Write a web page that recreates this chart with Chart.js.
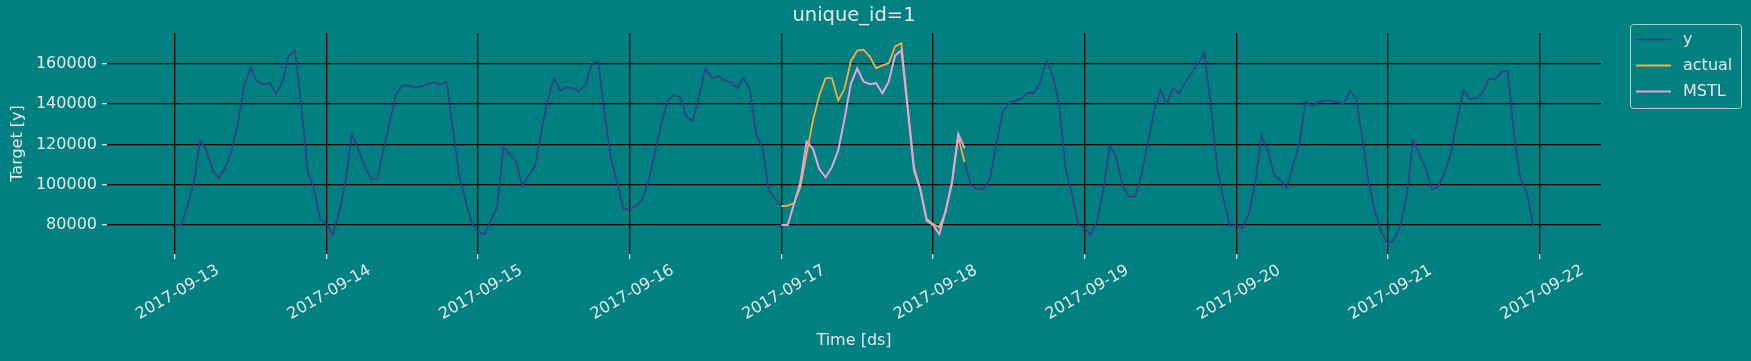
<!DOCTYPE html>
<html>
<head>
<meta charset="utf-8">
<script src="https://cdn.jsdelivr.net/npm/chart.js@4.4.1/dist/chart.umd.min.js"></script>
<style>
  html, body { margin: 0; padding: 0; background: #008080; }
  #wrap { width: 1751px; height: 361px; }
</style>
</head>
<body>
<div id="wrap"><canvas id="chart" width="1751" height="361"></canvas></div>
<script>
// hourly target values, one array per day (starting 2017-09-13 00:00)
const y0913 = [80000, 80000, 89600, 101200, 121900, 117000, 107000, 103200, 108700, 117000, 131000, 149600,
               158000, 151200, 149900, 150400, 145100, 150900, 163800, 166600, 139300, 107000, 97900, 83000];
const y0914 = [80500, 75200, 86300, 101200, 125200, 117800, 109500, 102900, 102500, 117000, 131000, 144600,
               149200, 149200, 148200, 148900, 149900, 150900, 149700, 150900, 128000, 104500, 92100, 81300];
const y0915 = [76700, 75200, 82200, 88800, 118600, 115300, 111500, 99200, 104500, 109200, 126000, 141800,
               152900, 146800, 148400, 147900, 146300, 149600, 160000, 161300, 136000, 113600, 101200, 88000];
const y0916 = [88000, 89300, 92600, 102000, 116100, 130200, 141800, 144600, 143400, 133800, 131800, 144300,
               157800, 152900, 153900, 151700, 150900, 147900, 152900, 147600, 125200, 118600, 97100, 93300];
const y0917 = [89300, 89600, 90800, 98700, 115300, 131800, 144300, 152900, 152900, 141800, 147600, 161300,
               166600, 167000, 163600, 157800, 159200, 160300, 168600, 170300, 139000, 108700, 97900, 83000];
const y0918 = [80500, 78900, 86300, 100400, 123600, 111100, 99900, 97900, 97900, 102500, 119400, 135700,
               140100, 141800, 142600, 145600, 145600, 150900, 161700, 154200, 139300, 107800, 95400, 80000];
const y0919 = [78400, 75000, 82200, 97900, 119400, 113600, 99600, 94100, 94100, 104500, 120300, 136800,
               146800, 140100, 147900, 145400, 150900, 155500, 160500, 165500, 138500, 107800, 92900, 79700];
const y0920 = [80000, 78400, 85500, 100400, 124400, 117000, 104900, 102000, 98200, 109500, 120300, 141300,
               139000, 141000, 141800, 141800, 141000, 140100, 146400, 142900, 122700, 100500, 86300, 76400];
const y0921 = [70600, 72700, 79700, 94600, 121900, 115300, 107800, 97600, 99200, 106200, 115300, 132700,
               146800, 142600, 142900, 145900, 152500, 152200, 155900, 156400, 124400, 102900, 96200, 80000];
const yValues = [].concat(y0913, y0914, y0915, y0916, y0917, y0918, y0919, y0920, y0921);

// test window: 2017-09-17 00:00 .. 2017-09-18 05:00
const forecastStart = 96;
const actualValues = [89300, 89600, 90800, 98700, 115300, 131800, 144300, 152900, 152900, 141800,
                      147600, 161300, 166600, 167000, 163600, 157800, 159200, 160300, 168600, 170300,
                      139000, 108700, 97900, 83000, 80500, 78900, 86300, 100400, 123600, 111100];
const mstlValues = [80000, 80000, 90400, 101200, 121400, 117800, 107800, 103700, 108700, 117000,
                    132700, 150100, 157800, 151200, 149900, 150400, 145400, 151200, 164100, 166600,
                    137600, 107000, 97600, 82200, 80000, 75500, 87100, 101200, 125200, 118100];

const xTickHours = [0, 24, 48, 72, 96, 120, 144, 168, 192, 216];
const xTickLabels = ['2017-09-13', '2017-09-14', '2017-09-15', '2017-09-16', '2017-09-17',
                     '2017-09-18', '2017-09-19', '2017-09-20', '2017-09-21', '2017-09-22'];
const yTicks = [80000, 100000, 120000, 140000, 160000];

const textColor = '#e6e6e6';
const font = 'DejaVu Sans';

const toPoints = (vals, start) => vals.map((v, i) => ({ x: start + i, y: v }));

// title and framed legend, drawn like matplotlib does
const decorations = {
    id: 'decorations',
    afterDraw(chart) {
        const ctx = chart.ctx;
        const area = chart.chartArea;
        ctx.save();
        ctx.fillStyle = textColor;
        ctx.font = '19.5px "' + font + '"';
        ctx.textAlign = 'center';
        ctx.textBaseline = 'middle';
        ctx.fillText('unique_id=1', (area.left + area.right) / 2, 16);

        // legend box
        const bx = 1630.5, by = 24.5, bw = 111, bh = 84;
        ctx.strokeStyle = 'rgba(215,215,215,0.85)';
        ctx.lineWidth = 1;
        ctx.beginPath();
        ctx.roundRect(bx, by, bw, bh, 3);
        ctx.stroke();
        ctx.font = '16px "' + font + '"';
        ctx.textAlign = 'left';
        chart.data.datasets.forEach((ds, i) => {
            const ry = 39.5 + i * 26;
            ctx.strokeStyle = ds.borderColor;
            ctx.lineWidth = ds.borderWidth;
            ctx.beginPath();
            ctx.moveTo(1636, ry);
            ctx.lineTo(1671, ry);
            ctx.stroke();
            ctx.fillStyle = textColor;
            ctx.fillText(ds.label, 1683, ry);
        });
        ctx.restore();
    }
};

new Chart(document.getElementById('chart'), {
    type: 'line',
    data: {
        datasets: [
            { label: 'y', data: toPoints(yValues, 0), borderColor: '#3b3a85', borderWidth: 1.6, order: 3 },
            { label: 'actual', data: toPoints(actualValues, forecastStart), borderColor: '#f2b43c', borderWidth: 1.8, order: 2 },
            { label: 'MSTL', data: toPoints(mstlValues, forecastStart), borderColor: '#e6a2e0', borderWidth: 2, order: 1 }
        ]
    },
    options: {
        responsive: false,
        animation: false,
        events: [],
        layout: { padding: { left: 0, top: 33, right: 150, bottom: 0 } },
        elements: { point: { radius: 0 }, line: { tension: 0 } },
        plugins: { legend: { display: false }, title: { display: false }, tooltip: { enabled: false } },
        scales: {
            x: {
                type: 'linear',
                min: -10.75,
                max: 225.75,
                afterBuildTicks: (axis) => { axis.ticks = xTickHours.map(v => ({ value: v })); },
                afterFit: (axis) => { axis.height = 107; },
                border: { display: false },
                grid: { color: '#000000', lineWidth: 1.3, tickColor: '#dddddd', tickLength: 5 },
                ticks: {
                    color: textColor,
                    font: { family: font, size: 16 },
                    autoSkip: false,
                    maxRotation: 30,
                    minRotation: 30,
                    labelOffset: 43,
                    padding: 2,
                    callback: (v) => xTickLabels[xTickHours.indexOf(v)]
                },
                title: { display: true, text: 'Time [ds]', color: textColor, font: { family: font, size: 16 },
                         padding: { top: 0, bottom: 10.5 } }
            },
            y: {
                min: 65600,
                max: 175300,
                afterBuildTicks: (axis) => { axis.ticks = yTicks.map(v => ({ value: v })); },
                afterFit: (axis) => { axis.width = 107; },
                border: { display: false },
                grid: { color: '#000000', lineWidth: 1.3, tickColor: '#dddddd', tickLength: 5 },
                ticks: {
                    color: textColor,
                    font: { family: font, size: 16 },
                    padding: 5,
                    callback: (v) => String(v)
                },
                title: { display: true, text: 'Target [y]', color: textColor, font: { family: font, size: 16 },
                         padding: { top: 8, bottom: 0 } }
            }
        }
    },
    plugins: [decorations]
});
</script>
</body>
</html>
